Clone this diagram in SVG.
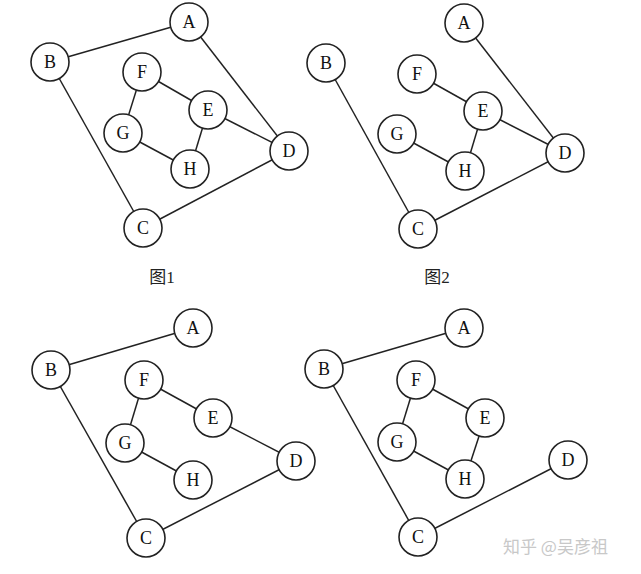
<svg xmlns="http://www.w3.org/2000/svg" width="641" height="574" viewBox="0 0 641 574">
<style>
.n circle{fill:#fff;stroke:#222;stroke-width:1.6}
.n text{font-family:"Liberation Serif",serif;font-size:18px;fill:#111;text-anchor:middle;dominant-baseline:central}
.e line{stroke:#222;stroke-width:1.5}
.cap{font-family:"Liberation Serif","Noto Sans CJK SC",serif;font-size:17px;fill:#222;text-anchor:middle}
.wm{font-family:"Noto Sans CJK SC",sans-serif;font-size:17px;fill:#c8c8c8}
</style>
<rect width="641" height="574" fill="#fff"/>
<g id="connectors" class="e">
<line x1="50" y1="62" x2="189" y2="22"/>
<line x1="189" y1="22" x2="289" y2="151"/>
<line x1="50" y1="62" x2="143" y2="228"/>
<line x1="143" y1="228" x2="289" y2="151"/>
<line x1="142" y1="72" x2="123" y2="133"/>
<line x1="142" y1="72" x2="208" y2="110"/>
<line x1="208" y1="110" x2="289" y2="151"/>
<line x1="208" y1="110" x2="190" y2="169"/>
<line x1="123" y1="133" x2="190" y2="169"/>
<line x1="464" y1="23" x2="565" y2="153"/>
<line x1="326" y1="63" x2="418" y2="229"/>
<line x1="418" y1="229" x2="565" y2="153"/>
<line x1="417" y1="74" x2="483" y2="111"/>
<line x1="483" y1="111" x2="565" y2="153"/>
<line x1="483" y1="111" x2="465" y2="171"/>
<line x1="397" y1="134" x2="465" y2="171"/>
<line x1="51" y1="370" x2="193" y2="328"/>
<line x1="51" y1="370" x2="146" y2="538"/>
<line x1="146" y1="538" x2="296" y2="461"/>
<line x1="213" y1="418" x2="296" y2="461"/>
<line x1="144" y1="380" x2="213" y2="418"/>
<line x1="144" y1="380" x2="125" y2="443"/>
<line x1="125" y1="443" x2="193" y2="480"/>
<line x1="324" y1="369" x2="464" y2="328"/>
<line x1="324" y1="369" x2="418" y2="537"/>
<line x1="418" y1="537" x2="568" y2="460"/>
<line x1="416" y1="380" x2="485" y2="418"/>
<line x1="416" y1="380" x2="397" y2="442"/>
<line x1="397" y1="442" x2="465" y2="479"/>
<line x1="485" y1="418" x2="465" y2="479"/>
</g>
<g id="g1">
<g id="g1-A" class="n"><circle cx="189" cy="22" r="19"/><text x="189" y="22">A</text></g>
<g id="g1-B" class="n"><circle cx="50" cy="62" r="19"/><text x="50" y="62">B</text></g>
<g id="g1-F" class="n"><circle cx="142" cy="72" r="19"/><text x="142" y="72">F</text></g>
<g id="g1-E" class="n"><circle cx="208" cy="110" r="19"/><text x="208" y="110">E</text></g>
<g id="g1-G" class="n"><circle cx="123" cy="133" r="19"/><text x="123" y="133">G</text></g>
<g id="g1-H" class="n"><circle cx="190" cy="169" r="19"/><text x="190" y="169">H</text></g>
<g id="g1-D" class="n"><circle cx="289" cy="151" r="19"/><text x="289" y="151">D</text></g>
<g id="g1-C" class="n"><circle cx="143" cy="228" r="19"/><text x="143" y="228">C</text></g>
</g>
<g id="g2">
<g id="g2-A" class="n"><circle cx="464" cy="23" r="19"/><text x="464" y="23">A</text></g>
<g id="g2-B" class="n"><circle cx="326" cy="63" r="19"/><text x="326" y="63">B</text></g>
<g id="g2-F" class="n"><circle cx="417" cy="74" r="19"/><text x="417" y="74">F</text></g>
<g id="g2-E" class="n"><circle cx="483" cy="111" r="19"/><text x="483" y="111">E</text></g>
<g id="g2-G" class="n"><circle cx="397" cy="134" r="19"/><text x="397" y="134">G</text></g>
<g id="g2-H" class="n"><circle cx="465" cy="171" r="19"/><text x="465" y="171">H</text></g>
<g id="g2-D" class="n"><circle cx="565" cy="153" r="19"/><text x="565" y="153">D</text></g>
<g id="g2-C" class="n"><circle cx="418" cy="229" r="19"/><text x="418" y="229">C</text></g>
</g>
<g id="g3">
<g id="g3-A" class="n"><circle cx="193" cy="328" r="19"/><text x="193" y="328">A</text></g>
<g id="g3-B" class="n"><circle cx="51" cy="370" r="19"/><text x="51" y="370">B</text></g>
<g id="g3-F" class="n"><circle cx="144" cy="380" r="19"/><text x="144" y="380">F</text></g>
<g id="g3-E" class="n"><circle cx="213" cy="418" r="19"/><text x="213" y="418">E</text></g>
<g id="g3-G" class="n"><circle cx="125" cy="443" r="19"/><text x="125" y="443">G</text></g>
<g id="g3-H" class="n"><circle cx="193" cy="480" r="19"/><text x="193" y="480">H</text></g>
<g id="g3-D" class="n"><circle cx="296" cy="461" r="19"/><text x="296" y="461">D</text></g>
<g id="g3-C" class="n"><circle cx="146" cy="538" r="19"/><text x="146" y="538">C</text></g>
</g>
<g id="g4">
<g id="g4-A" class="n"><circle cx="464" cy="328" r="19"/><text x="464" y="328">A</text></g>
<g id="g4-B" class="n"><circle cx="324" cy="369" r="19"/><text x="324" y="369">B</text></g>
<g id="g4-F" class="n"><circle cx="416" cy="380" r="19"/><text x="416" y="380">F</text></g>
<g id="g4-E" class="n"><circle cx="485" cy="418" r="19"/><text x="485" y="418">E</text></g>
<g id="g4-G" class="n"><circle cx="397" cy="442" r="19"/><text x="397" y="442">G</text></g>
<g id="g4-H" class="n"><circle cx="465" cy="479" r="19"/><text x="465" y="479">H</text></g>
<g id="g4-D" class="n"><circle cx="568" cy="460" r="19"/><text x="568" y="460">D</text></g>
<g id="g4-C" class="n"><circle cx="418" cy="537" r="19"/><text x="418" y="537">C</text></g>
</g>
<text class="cap" x="162" y="283">图1</text>
<text class="cap" x="437" y="283">图2</text>
<text class="wm" x="503" y="553">知乎 @吴彦祖</text>
</svg>
